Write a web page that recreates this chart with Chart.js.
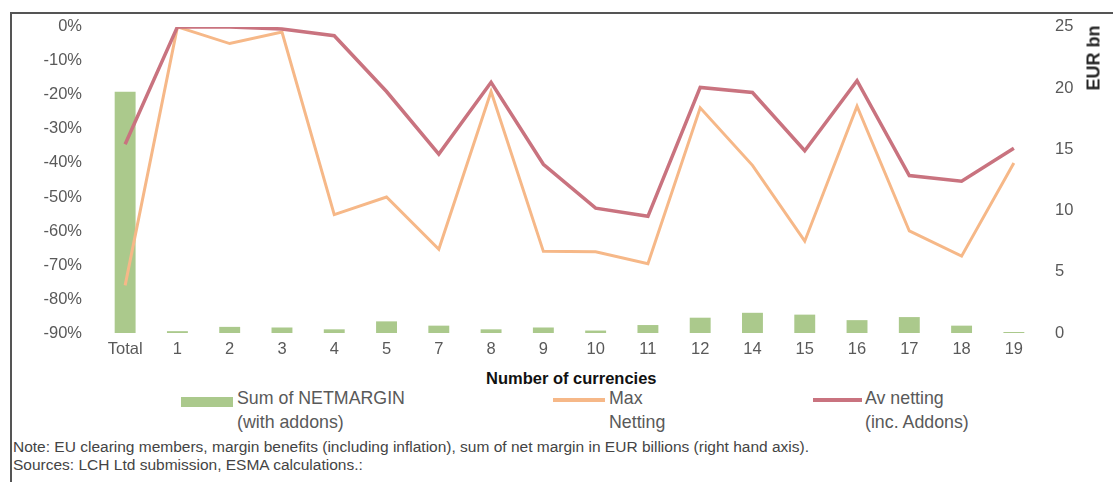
<!DOCTYPE html>
<html>
<head>
<meta charset="utf-8">
<script src="https://cdn.jsdelivr.net/npm/chart.js@4.4.1/dist/chart.umd.min.js"></script>
<style>
  body { margin: 0; background: #fff; width: 1113px; height: 482px; overflow: hidden; position: relative;
         font-family: "Liberation Sans", Arial, sans-serif; }
  #frame { position: absolute; left: 10px; top: 12px; width: 1200px; height: 600px;
           border-top: 2px solid #555; border-left: 2px solid #555; }
  #wrap { position: absolute; left: 0; top: 0; width: 1113px; height: 363px; }
  .txt { position: absolute; white-space: nowrap; color: #595959; }
  .sw { position: absolute; }
</style>
</head>
<body>
<div id="frame"></div>
<div id="wrap"><canvas id="chart" width="1113" height="363"></canvas></div>

<div class="txt" style="left:1094px; top:58px; transform: translate(-50%,-50%) rotate(-90deg); font-weight:bold; font-size:18px; color:#222;">EUR bn</div>
<div class="txt" style="left:486px; top:368px; font-size:16.5px; font-weight:bold; color:#111; line-height:20px;">Number of currencies</div>

<div class="sw" style="left:181px; top:397px; width:52px; height:10px; background:#abc98c;"></div>
<div class="txt" style="left:237px; top:386px; font-size:17.8px; line-height:24px;">Sum of NETMARGIN<br>(with addons)</div>
<div class="sw" style="left:553px; top:398px; width:52px; height:4px; background:#f6b888;"></div>
<div class="txt" style="left:609px; top:386px; font-size:17.8px; line-height:24px;">Max<br>Netting</div>
<div class="sw" style="left:813px; top:398px; width:49px; height:4px; background:#c9737f;"></div>
<div class="txt" style="left:865px; top:386px; font-size:17.8px; line-height:24px;">Av netting<br>(inc. Addons)</div>

<div class="txt" style="left:13px; top:438px; font-size:15.5px; line-height:18px; color:#444;">Note: EU clearing members, margin benefits (including inflation), sum of net margin in EUR billions (right hand axis).</div>
<div class="txt" style="left:13px; top:456px; font-size:15.5px; line-height:18px; color:#444;">Sources: LCH Ltd submission, ESMA calculations.:</div>

<script>
// categories and values
const categories = ["Total", "1", "2", "3", "4", "5", "7", "8", "9", "10", "11", "12", "14", "15", "16", "17", "18", "19"];
const sumNetMargin = [19.7, 0.15, 0.5, 0.45, 0.3, 0.95, 0.6, 0.3, 0.45, 0.2, 0.65, 1.25, 1.65, 1.5, 1.05, 1.3, 0.6, 0.08]; // EUR bn, right axis
const maxNetting = [-76, 0, -4.9, -1.5, -55.2, -50, -65.4, -19, -66, -66.1, -69.6, -23.8, -40.7, -63, -23.3, -60, -67.4, -40];
const avNetting = [-34.5, 0, 0, -0.6, -2.6, -19, -37.4, -16.3, -40.4, -53.3, -55.7, -17.8, -19.3, -36.4, -15.8, -43.7, -45.4, -35.7];

const tickFont = { family: "'Liberation Sans', Arial, sans-serif", size: 16.5 };
const tickColor = "#595959";

new Chart(document.getElementById("chart"), {
    data: {
        labels: categories,
        datasets: [
            {
                type: "bar",
                label: "Sum of NETMARGIN (with addons)",
                data: sumNetMargin,
                yAxisID: "y1",
                backgroundColor: "#abc98c",
                barPercentage: 0.4,
                categoryPercentage: 1,
                order: 3
            },
            {
                type: "line",
                label: "Max Netting",
                data: maxNetting,
                yAxisID: "y",
                borderColor: "#f6b888",
                borderWidth: 3,
                pointRadius: 0,
                tension: 0,
                order: 2
            },
            {
                type: "line",
                label: "Av netting (inc. Addons)",
                data: avNetting,
                yAxisID: "y",
                borderColor: "#c9737f",
                borderWidth: 3.5,
                pointRadius: 0,
                tension: 0,
                order: 1
            }
        ]
    },
    options: {
        responsive: false,
        animation: false,
        devicePixelRatio: 1,
        layout: { padding: { top: 23, bottom: 0, left: 0, right: 0 } },
        plugins: { legend: { display: false }, tooltip: { enabled: false } },
        scales: {
            x: {
                grid: { display: false, drawTicks: false },
                border: { display: false },
                ticks: { font: tickFont, color: tickColor, padding: 7, maxRotation: 0, autoSkip: false },
                afterFit: (s) => { s.height = 30; }
            },
            y: {
                position: "left",
                min: -90,
                max: 0,
                grid: { display: false, drawTicks: false },
                border: { display: false },
                ticks: { stepSize: 10, font: tickFont, color: tickColor, padding: 17, callback: (v) => v + "%" },
                afterFit: (s) => { s.width = 99; }
            },
            y1: {
                position: "right",
                min: 0,
                max: 25,
                grid: { display: false, drawTicks: false },
                border: { display: false },
                ticks: { stepSize: 5, font: tickFont, color: tickColor, padding: 15 },
                afterFit: (s) => { s.width = 73; }
            }
        }
    }
});
</script>
</body>
</html>
